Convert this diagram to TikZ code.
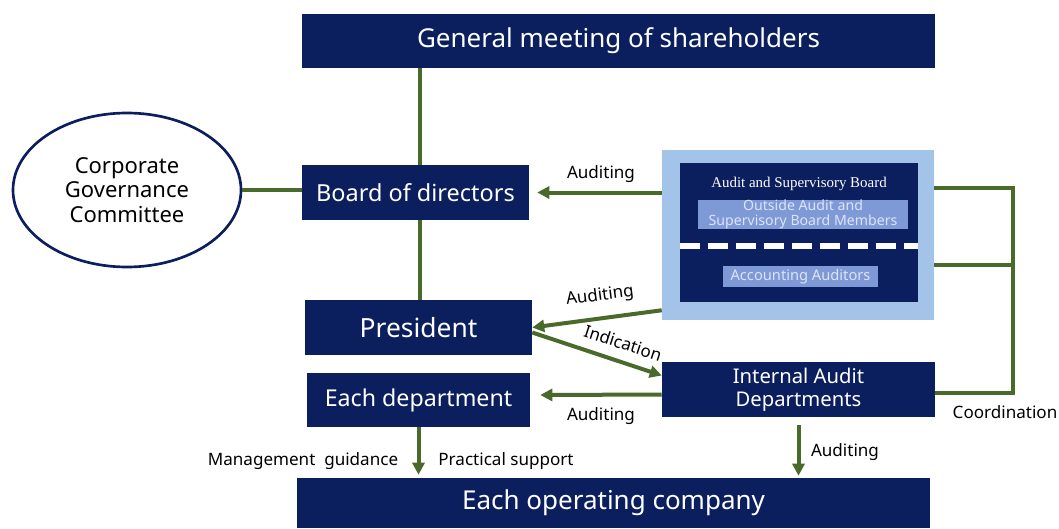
\documentclass[tikz,border=0pt]{standalone}
\usepackage{fontspec}
\setmainfont{Noto Sans}
\newfontfamily\serifx{Liberation Serif}
\usetikzlibrary{shapes.geometric,arrows.meta,calc}
\definecolor{navy}{HTML}{0B1F5E}
\definecolor{lblue}{HTML}{A3C3E8}
\definecolor{mblue}{HTML}{7F99D6}
\definecolor{gline}{HTML}{4A6A2C}
\definecolor{ltext}{HTML}{DCE4F6}
\tikzset{
  box/.style={fill=navy, text=white, inner sep=0pt, align=center},
  conn/.style={draw=gline, line width=3pt},
  arr/.style={conn, -{Triangle[length=9pt,width=9pt]}},
  lab/.style={text=black, font=\fontsize{12.8}{15}\selectfont, inner sep=0pt},
}
\begin{document}
\begin{tikzpicture}[x=0.75pt,y=-0.75pt]
\useasboundingbox (0,0) rectangle (1059,528);
% boxes
\node[box, minimum width=633*0.75pt, minimum height=54*0.75pt, font=\fontsize{19.5}{22}\selectfont] (gm) at (618.5,41) {General meeting of shareholders};
\node[box, minimum width=227*0.75pt, minimum height=55*0.75pt, font=\fontsize{17.6}{20}\selectfont] (board) at (415.5,192.5) {Board of directors};
\node[ellipse, draw=navy, line width=2pt, minimum width=228*0.75pt, minimum height=154*0.75pt, inner sep=0pt, align=center, font=\fontsize{16.5}{18.5}\selectfont] (ccc) at (127,190) {Corporate\\Governance\\Committee};
\node[box, minimum width=227*0.75pt, minimum height=55*0.75pt, font=\fontsize{19.8}{22}\selectfont] (pres) at (418.5,327.5) {President};
\node[box, minimum width=223*0.75pt, minimum height=54*0.75pt, font=\fontsize{17.4}{20}\selectfont] (dept) at (418.5,400) {Each department};
\node[box, minimum width=273*0.75pt, minimum height=55*0.75pt, font=\fontsize{15.2}{17}\selectfont] (iad) at (798.5,389.5) {Internal Audit\\Departments};
\node[box, minimum width=633*0.75pt, minimum height=50*0.75pt, font=\fontsize{19.5}{22}\selectfont] (eoc) at (613.5,503) {Each operating company};
% audit and supervisory board
\node[fill=lblue, minimum width=272*0.75pt, minimum height=170*0.75pt, inner sep=0pt] (asb) at (798,235) {};
\node[fill=navy, minimum width=238*0.75pt, minimum height=139*0.75pt, inner sep=0pt] (asbin) at (799,232.5) {};
\node[text=white, font=\serifx\fontsize{11.2}{13}\selectfont, inner sep=0pt] (asbt) at (799,184) {Audit and Supervisory Board};
\node[fill=mblue, text=ltext, minimum width=210*0.75pt, minimum height=29*0.75pt, inner sep=0pt, align=center, font=\fontsize{10.6}{11}\selectfont] (oasb) at (803,214.5) {Outside Audit and\\Supervisory Board Members};
\node[fill=mblue, text=ltext, minimum width=155*0.75pt, minimum height=21*0.75pt, inner sep=0pt, font=\fontsize{11}{12}\selectfont] (acc) at (800.5,276.5) {Accounting Auditors};
\draw[white, line width=4pt, dash pattern=on 15pt off 6pt] (asbin.west |- 0,246) -- (asbin.east |- 0,246);
% connectors
\draw[conn] (gm.south -| 420,0) -- (board.north -| 420,0);
\draw[conn] (board.south -| 420,0) -- (pres.north -| 420,0);
\draw[conn] (ccc.east) -- (ccc.east -| board.west);
\draw[arr] (asb.west |- board.east) -- ($(board.east)+(8,0)$);
\draw[arr] ($(asb.south west)+(0,-10)$) -- (pres.east);
\draw[arr] ($(pres.east)+(0,5)$) -- ($(iad.west)+(0,-14)$);
\draw[arr] ($(iad.west)+(0,5)$) -- ($(dept.east)+(10,-5)$);
\draw[arr] (dept.south) -- ($(dept.south |- eoc.north)+(0,-3)$);
\draw[arr] ($(iad.south)+(0,8)$) -- ($(iad.south |- eoc.north)+(0,-2)$);
\coordinate (c1) at (1013,188);
\coordinate (c2) at (1013,265);
\coordinate (c3) at (1013,393);
\draw[conn] (asb.east |- c1) -- (c1) -- (c3) -- (iad.east |- c3);
\draw[conn] (asb.east |- c2) -- (c2);
% labels
\node[lab] at (601,174) {Auditing};
\node[lab, rotate=7.5] at (600,296) {Auditing};
\node[lab, rotate=-18] at (623,343) {Indication};
\node[lab] at (601,416) {Auditing};
\node[lab] at (1005,412) {Coordination};
\node[lab] at (303,461) {Management\ \ guidance};
\node[lab] at (506,461) {Practical support};
\node[lab] at (845,452) {Auditing};
\end{tikzpicture}
\end{document}
